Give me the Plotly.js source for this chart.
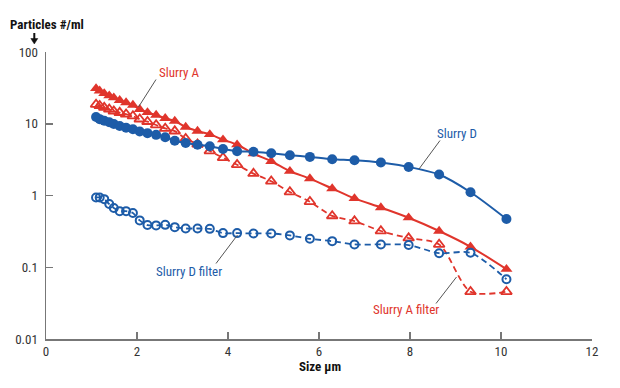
<!DOCTYPE html>
<html>
<head>
<meta charset="utf-8">
<script src="https://cdn.plot.ly/plotly-3.0.1.min.js"></script>
<style>html,body{margin:0;padding:0;background:#fff;}#chart{width:620px;height:388px;}</style>
</head>
<body>
<div id="chart"></div>
<script>
// ---- data ----
var sizes = [1.10,1.18,1.28,1.39,1.49,1.62,1.76,1.91,2.06,2.23,2.42,2.62,2.83,3.07,3.33,3.60,3.89,4.20,4.56,4.95,5.36,5.80,6.29,6.78,7.36,7.97,8.64,9.33,10.12];
var slurryA = [31,28.8,26.5,24.6,23.1,21.2,19.7,18.2,15.9,14.4,13.2,11.9,10.9,9.0,7.9,7.1,6.0,5.1,3.84,3.0,2.18,1.72,1.25,0.91,0.68,0.49,0.32,0.193,0.094];
var slurryAFilter = [18.6,17.9,16.8,15.9,15.0,14.3,13.6,12.8,11.6,10.7,9.6,8.6,7.9,6.2,5.2,4.17,3.36,2.68,2.02,1.58,1.12,0.82,0.52,0.44,0.32,0.255,0.208,0.0456,0.0456];
var slurryD = [12.4,11.6,11.0,10.5,9.9,9.3,8.8,8.4,7.8,7.4,7.0,6.5,5.8,5.4,5.1,4.85,4.45,4.13,4.08,3.87,3.64,3.45,3.2,3.1,2.88,2.5,1.96,1.11,0.47];
var slurryDFilter = [0.94,0.94,0.89,0.76,0.67,0.605,0.605,0.57,0.45,0.387,0.383,0.39,0.362,0.347,0.347,0.343,0.299,0.299,0.296,0.296,0.278,0.249,0.231,0.208,0.208,0.204,0.157,0.159,0.068];
var xTicks = [0,2,4,6,8,10,12];
var yTickVals = [0.01,0.1,1,10,100];
var yTickText = ['0.01','0.1','1','10','100'];

var RED = '#e0352c', BLUE = '#1d5ca8';
var FONT = '"Roboto Condensed", "Open Sans Condensed", "Liberation Sans", sans-serif';

// pixel -> paper helpers (plot area 46..592 x, 52..339 y)
var L = 46, R = 592, T = 52, B = 339;
function px(x){ return (x - L) / (R - L); }
function py(y){ return (B - y) / (B - T); }

var traces = [
  {x: sizes, y: slurryA, name: 'Slurry A', mode: 'lines+markers',
   line: {color: RED, width: 2, shape: 'spline', smoothing: 0.8},
   marker: {symbol: 'triangle-up', size: 10.5, color: RED}},
  {x: sizes, y: slurryAFilter, name: 'Slurry A filter', mode: 'lines+markers',
   line: {color: RED, width: 1.8, dash: '6px,4px', shape: 'spline', smoothing: 0.8},
   marker: {symbol: 'triangle-up-open', size: 9.5, color: RED, line: {width: 1.8, color: RED}}},
  {x: sizes, y: slurryD, name: 'Slurry D', mode: 'lines+markers',
   line: {color: BLUE, width: 2, shape: 'spline', smoothing: 0.8},
   marker: {symbol: 'circle', size: 10, color: BLUE}},
  {x: sizes, y: slurryDFilter, name: 'Slurry D filter', mode: 'lines+markers',
   line: {color: BLUE, width: 1.8, dash: '6px,4px', shape: 'spline', smoothing: 0.8},
   marker: {symbol: 'circle-open', size: 8, color: BLUE, line: {width: 2, color: BLUE}}}
];

function lbl(text, x, y, color, bold, size){
  return {text: bold ? '<b>' + text + '</b>' : text, xref: 'paper', yref: 'paper',
          x: px(x), y: py(y), xanchor: 'center', yanchor: 'middle', showarrow: false,
          font: {family: FONT, size: size || 13, color: color}};
}
function leader(x0, y0, x1, y1){
  return {type: 'line', xref: 'paper', yref: 'paper', x0: px(x0), y0: py(y0), x1: px(x1), y1: py(y1),
          line: {color: '#555', width: 1}};
}

var layout = {
  width: 620, height: 388,
  margin: {l: L, r: 620 - R, t: T, b: 388 - B, pad: 0},
  paper_bgcolor: '#fff', plot_bgcolor: '#fff',
  showlegend: false,
  font: {family: FONT, size: 13, color: '#333'},
  xaxis: {range: [0, 12], tickvals: xTicks, ticks: 'inside', ticklen: 7, tickwidth: 1.5, tickcolor: '#777',
          showline: true, linecolor: '#777', linewidth: 1.5, showgrid: false, zeroline: false,
          tickfont: {family: FONT, size: 13, color: '#333'}, fixedrange: true},
  yaxis: {type: 'log', range: [-2, 2], tickvals: yTickVals, ticktext: yTickText, ticks: 'inside', ticklen: 7,
          tickwidth: 1.5, tickcolor: '#777', showline: true, linecolor: '#777', linewidth: 1.5,
          ticklabelstandoff: 4,
          showgrid: false, zeroline: false, tickfont: {family: FONT, size: 13, color: '#333'}, fixedrange: true},
  annotations: [
    lbl('Particles #/ml', 46.5, 24.5, '#111', true, 13),
    lbl('Size µm', 320, 366.5, '#111', true, 13),
    lbl('Slurry A', 179, 72, RED),
    lbl('Slurry D', 457, 133, BLUE),
    lbl('Slurry D filter', 188.5, 271, BLUE),
    lbl('Slurry A filter', 406, 309, RED)
  ],
  shapes: [
    leader(156, 79.5, 138.5, 107),
    leader(440, 140.5, 419, 169),
    leader(216, 263.5, 237.5, 235),
    leader(436, 303.5, 456.5, 277),
    {type: 'line', xref: 'paper', yref: 'paper', x0: px(34.3), y0: py(33), x1: px(34.3), y1: py(39.5),
     line: {color: '#111', width: 2}},
    {type: 'path', xref: 'paper', yref: 'paper',
     path: 'M' + px(30.8) + ',' + py(38.5) + ' L' + px(37.8) + ',' + py(38.5) + ' L' + px(34.3) + ',' + py(44) + ' Z',
     fillcolor: '#111', line: {color: '#111', width: 0.5}}
  ]
};

Plotly.newPlot('chart', traces, layout, {displayModeBar: false, staticPlot: true});
</script>
</body>
</html>
